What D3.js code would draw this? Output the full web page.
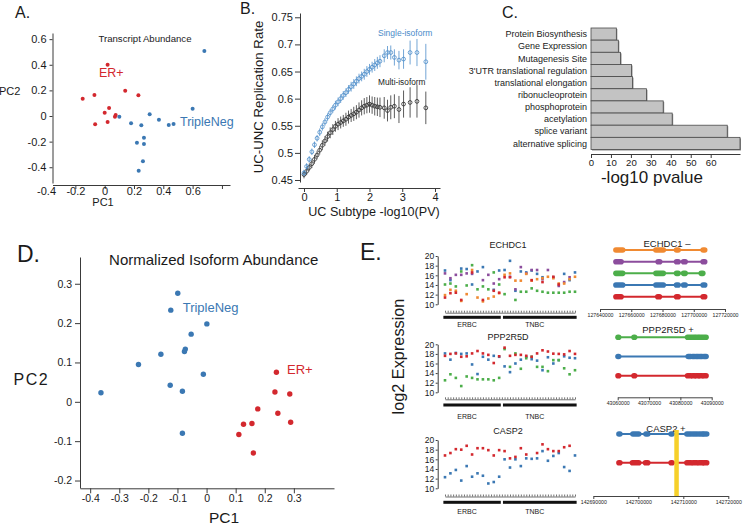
<!DOCTYPE html>
<html><head><meta charset="utf-8">
<script src="https://cdn.jsdelivr.net/npm/d3@7/dist/d3.min.js"></script>
<style>
body{margin:0;background:#fff;}
svg{font-family:"Liberation Sans",Arial,Helvetica,sans-serif;display:block;}
</style></head><body>
<svg id="c" width="744" height="527"></svg>
<script>
// ================= DATA =================
// Panel A: Transcript abundance PCA
const aErPC1 = [-0.18,-0.35,-0.27,-0.06,0.03,-0.17,-0.20,-0.125,-0.13,-0.265,-0.18];
const aErPC2 = [0.40,0.135,0.164,0.198,0.162,0.0625,0.026,0.008,-0.005,-0.065,-0.047];
const aTnPC1 = [0.48,0.40,-0.10,0.107,-0.02,0.05,0.17,0.237,0.27,0.068,0.02,0.068,0.061,0.032];
const aTnPC2 = [0.508,0.057,-0.005,0.013,-0.057,-0.073,-0.029,-0.07,-0.0625,-0.17,-0.208,-0.219,-0.354,-0.427];
const aTicks = [-0.4,-0.2,0,0.2,0.4,0.6];

// Panel B: replication rate
const bX = [0,0.08,0.16,0.24,0.32,0.40,0.48,0.56,0.64,0.72,0.80,0.88,0.96,1.04,1.12,1.20,1.28,1.36,1.44,1.52,1.60,1.68,1.76,1.84,1.92,2.00,2.08,2.16,2.24,2.32,2.45,2.55,2.65,2.76,2.90,3.04,3.24,3.45,3.72];
const bSingle = [0.463,0.475,0.488,0.502,0.515,0.527,0.538,0.548,0.557,0.566,0.574,0.581,0.588,0.594,0.600,0.606,0.611,0.617,0.622,0.627,0.632,0.637,0.641,0.645,0.650,0.654,0.658,0.662,0.666,0.669,0.679,0.685,0.685,0.676,0.671,0.673,0.685,0.685,0.668];
const bSingleErr = [0.006,0.006,0.006,0.006,0.006,0.006,0.007,0.007,0.007,0.007,0.007,0.007,0.008,0.008,0.008,0.008,0.008,0.008,0.009,0.009,0.009,0.009,0.009,0.010,0.010,0.010,0.010,0.011,0.011,0.011,0.012,0.012,0.013,0.015,0.017,0.018,0.022,0.025,0.033];
const bMulti = [0.460,0.466,0.473,0.480,0.488,0.496,0.505,0.514,0.522,0.530,0.537,0.543,0.549,0.553,0.556,0.559,0.562,0.566,0.569,0.572,0.575,0.579,0.583,0.586,0.588,0.590,0.588,0.586,0.585,0.584,0.583,0.578,0.584,0.586,0.580,0.590,0.593,0.595,0.583];
const bMultiErr = [0.007,0.007,0.007,0.008,0.008,0.008,0.008,0.009,0.009,0.009,0.010,0.010,0.010,0.011,0.011,0.011,0.012,0.012,0.012,0.013,0.013,0.014,0.014,0.015,0.015,0.016,0.016,0.017,0.017,0.018,0.020,0.020,0.022,0.022,0.025,0.025,0.028,0.030,0.030];
const bYTicks = [0.45,0.5,0.55,0.6,0.65,0.7,0.75];
const bXTicks = [0,1,2,3,4];

// Panel C: enrichment
const cTerms = ["Protein Biosynthesis","Gene Expression","Mutagenesis Site","3'UTR translational regulation","translational elongation","ribonucleoprotein","phosphoprotein","acetylation","splice variant","alternative splicing"];
const cVals = [12.7,13.7,14.8,20.3,20.8,27.8,36.2,40.7,68.3,74.7];
const cTicks = [0,10,20,30,40,50,60];

// Panel D: normalized isoform abundance PCA
const dTnPC1 = [-0.099,-0.123,0.001,-0.053,-0.073,-0.076,-0.157,-0.234,-0.011,-0.125,-0.083,-0.363,-0.083];
const dTnPC2 = [0.276,0.233,0.198,0.172,0.134,0.128,0.121,0.095,0.070,0.042,0.027,0.023,-0.080];
const dErPC1 = [0.240,0.235,0.286,0.176,0.245,0.127,0.156,0.289,0.111,0.161];
const dErPC2 = [0.075,0.025,0.020,-0.018,-0.029,-0.057,-0.055,-0.052,-0.083,-0.130];
const dXTicks = [-0.4,-0.3,-0.2,-0.1,0,0.1,0.2,0.3];
const dYTicks = [-0.2,-0.1,0,0.1,0.2,0.3];

// Panel E: per-sample log2 expression (25 samples: 11 ERBC, 14 TNBC)
const eGroups = ["ERBC","TNBC"];
const eGroupSize = [11,14];
const e1Blue   = [17.0,15.0,null,17.4,17.3,14.1,16.8,17.7,null,13.0,17.0,17.1,19.0,12.8,16.8,16.6,17.0,16.3,15.6,null,15.6,null,16.3,15.0,16.6];
const e1Purple = [16.4,15.4,16.1,16.1,16.4,16.3,null,15.0,16.1,14.3,15.2,null,15.7,13.1,17.7,16.4,17.1,17.1,15.2,17.1,null,13.8,14.6,15.6,null];
const e1Green  = [14.1,14.3,13.7,16.8,13.9,18.1,13.1,13.7,13.1,16.6,14.1,12.1,null,10.9,12.6,12.6,13.3,12.8,12.6,12.4,12.4,12.4,12.4,12.6,12.6];
const e1Orange = [11.9,13.0,12.8,10.7,12.1,17.1,11.4,10.6,11.2,11.6,12.3,16.1,16.4,14.9,14.9,16.3,14.9,15.2,15.4,15.7,15.4,14.3,14.3,15.2,15.7];
const e1Red    = [11.4,12.3,12.4,10.9,null,16.6,null,10.9,null,12.8,12.4,15.6,15.6,null,null,null,15.0,null,14.6,null,15.7,14.1,null,null,null];
const e2Red    = [17.6,18.0,18.1,17.4,17.5,18.1,18.6,18.1,17.8,16.1,17.5,19.3,17.6,17.8,17.8,17.6,17.4,18.1,18.75,18.5,18.05,18.0,17.9,18.6,18.0];
const e2Blue   = [18.1,16.8,18.2,18.0,18.1,15.8,13.8,17.4,16.8,17.6,17.4,15.4,14.2,16.0,16.8,17.4,16.9,16.6,14.6,17.3,16.0,16.7,17.5,17.2,17.1];
const e2Green  = [12.5,13.75,13.0,11.3,13.3,13.0,12.7,12.7,12.7,12.5,13.0,19.0,15.3,18.1,14.9,17.1,17.4,15.3,15.3,14.4,16.7,16.7,15.0,13.75,14.6];
const e3Red    = [16.8,17.3,18.1,18.0,18.8,17.0,18.3,18.3,17.9,16.8,17.9,17.7,16.2,16.5,18.3,17.0,null,17.3,19.1,18.1,17.7,17.7,18.5,18.8,null];
const e3Blue   = [12.3,13.1,13.8,11.6,14.6,12.4,13.1,12.6,11.0,11.3,12.4,16.0,14.3,16.0,14.6,16.2,16.1,16.2,17.7,15.7,16.7,17.3,14.4,13.6,16.8];
const eYTicks = [10,12,14,16,18,20];

// Panel E right: isoform exon structures (genomic coordinates)
const g1Name = "ECHDC1 \u2013";
const g1Ticks = [127640000,127660000,127680000,127700000,127720000];
const g1Exons = [
  [[127650200,127654500],[127675800,127680500],[127689000,127690000],[127706000,127707000]],
  [[127650200,127653500],[127677200,127678200],[127689000,127690000],[127693500,127694500],[127706000,127707000]],
  [[127650200,127654500],[127675800,127680500],[127689000,127690000],[127693500,127694500],[127704800,127705800]],
  [[127650200,127654500],[127675800,127680500],[127689000,127690000],[127693500,127694500],[127706000,127707000]],
  [[127650200,127653500],[127677000,127678000],[127689000,127690000],[127706000,127707000]]
];
const g2Name = "PPP2R5D +";
const g2Ticks = [43060000,43070000,43080000,43090000];
const g2Exons = [
  [[43060100,43060300],[43065200,43065400],[43082300,43083300],[43083900,43084500],[43085000,43085700],[43086200,43086900],[43087500,43088200]],
  [[43060100,43060300],[43082500,43083300],[43083900,43084500],[43085000,43085700],[43086200,43086900],[43087500,43088200]],
  [[43060100,43060300],[43065200,43065400],[43082300,43083300],[43083900,43084500],[43085000,43085700],[43086200,43086900],[43087500,43088200]]
];
const g3Name = "CASP2 +";
const g3Ticks = [142690000,142700000,142710000,142720000];
const g3Exons = [
  [[142695700,142695900],[142698800,142700100],[142701700,142702100],[142707300,142707500],[142710800,142711700],[142712200,142713000],[142713500,142714300],[142714600,142715200]],
  [[142695700,142695900],[142698700,142700100],[142701600,142702100],[142707300,142707500],[142710800,142711700],[142712200,142713000],[142713500,142714300],[142714600,142715200]]
];
const g3Highlight = [142708000,142709000];

// ================= DRAW =================
const FONT = '"Liberation Sans", Arial, Helvetica, sans-serif';
const RED = "#d3282e", BLUE = "#3b78b3", ORANGE = "#f08a32", PURPLE = "#8c4d9d", GREEN = "#4cae4a";
const svg = d3.select("#c");

function txt(x, y, s, size, o = {}) {
  const t = svg.append("text").attr("x", x).attr("y", y).text(s)
    .attr("font-size", size).attr("fill", o.fill || "#1a1a1a");
  if (o.anchor) t.attr("text-anchor", o.anchor);
  if (o.rotate) t.attr("transform", `rotate(-90,${x},${y})`);
  if (o.ls) t.attr("letter-spacing", o.ls);
  return t;
}
function styleAxis(g, fs, col) {
  g.selectAll("path,line").attr("stroke", col || "#3a3a3a").attr("stroke-width", 1);
  g.selectAll("text").attr("font-family", FONT).attr("font-size", fs).attr("fill", "#1a1a1a");
  return g;
}
const numFmt = v => String(v);

// ---- panel letters
txt(15, 17.5, "A.", 16);
txt(240, 14, "B.", 16);
txt(502, 17.5, "C.", 16);
txt(17, 262, "D.", 23);
txt(360, 260, "E.", 23);

// ---- Panel A
{
  const x = d3.scaleLinear().domain([-0.556, 0.655]).range([52.5, 230]);
  const xLab = d3.scaleLinear().domain([-0.356, 0.855]).range([52.5, 230]);
  const y = d3.scaleLinear().domain([-0.523, 0.648]).range([183, 33]);
  styleAxis(svg.append("g").attr("transform", "translate(52.5,0)")
    .call(d3.axisLeft(y).tickValues(aTicks).tickSize(3).tickSizeOuter(0).tickPadding(3).tickFormat(numFmt)), 11);
  styleAxis(svg.append("g").attr("transform", "translate(0,185)")
    .call(d3.axisBottom(x).tickValues(aTicks).tickSize(4).tickSizeOuter(0).tickFormat("")), 11);
  const lab = svg.append("g").attr("transform", "translate(0,185)")
    .call(d3.axisBottom(xLab).tickValues(aTicks).tickSize(0).tickPadding(2).tickFormat(numFmt));
  lab.select(".domain").remove();
  styleAxis(lab, 11);
  svg.append("g").selectAll("circle").data(aErPC1).join("circle")
    .attr("cx", d => x(d)).attr("cy", (d, i) => y(aErPC2[i])).attr("r", 2).attr("fill", RED);
  svg.append("g").selectAll("circle").data(aTnPC1).join("circle")
    .attr("cx", d => x(d)).attr("cy", (d, i) => y(aTnPC2[i])).attr("r", 2).attr("fill", BLUE);
  txt(145, 41.5, "Transcript Abundance", 9.6, {anchor: "middle"});
  txt(99, 77, "ER+", 12.5, {fill: RED});
  txt(180, 126, "TripleNeg", 12.5, {fill: BLUE});
  txt(-1, 95, "PC2", 11);
  txt(103, 206, "PC1", 11, {anchor: "middle"});
}

// ---- Panel B
{
  const x = d3.scaleLinear().domain([-0.183, 4.153]).range([298, 440]);
  const y = d3.scaleLinear().domain([0.4463, 0.7579]).range([182, 13]);
  styleAxis(svg.append("g").attr("transform", "translate(300,0)")
    .call(d3.axisLeft(y).tickValues(bYTicks).tickSize(5).tickSizeOuter(0).tickPadding(2).tickFormat(numFmt)), 11);
  styleAxis(svg.append("g").attr("transform", "translate(0,188)")
    .call(d3.axisBottom(x).tickValues(bXTicks).tickSize(4).tickSizeOuter(0).tickPadding(1.5).tickFormat(numFmt)), 11);
  const series = [[bMulti, bMultiErr, "#2a2a2a"], [bSingle, bSingleErr, "#4a8bc9"]];
  series.forEach(([vals, errs, col]) => {
    const g = svg.append("g");
    g.selectAll("line").data(vals).join("line")
      .attr("x1", (d, i) => x(bX[i])).attr("x2", (d, i) => x(bX[i]))
      .attr("y1", (d, i) => y(d - errs[i])).attr("y2", (d, i) => y(d + errs[i]))
      .attr("stroke", col).attr("stroke-width", 0.9).attr("opacity", 0.85);
    g.selectAll("circle").data(vals).join("circle")
      .attr("cx", (d, i) => x(bX[i])).attr("cy", d => y(d)).attr("r", 1.9)
      .attr("fill", "none").attr("stroke", col).attr("stroke-width", 0.8);
  });
  txt(378, 35.5, "Single-isoform", 8.5, {fill: "#4a8bc9"});
  txt(378, 85, "Multi-isoform", 8.3, {fill: "#222"});
  txt(263, 97, "UC-UNC Replication Rate", 13.2, {anchor: "middle", rotate: true});
  txt(374, 216, "UC Subtype -log10(PV)", 12.6, {anchor: "middle"});
}

// ---- Panel C
{
  const x = d3.scaleLinear().domain([0, 74.7]).range([591, 740]);
  const y = d3.scaleBand().domain(cTerms).range([28, 149.5]).padding(0);
  const g = svg.append("g");
  g.selectAll("rect.sh").data(cVals).join("rect").attr("class", "sh")
    .attr("x", x(0) + 1).attr("y", (d, i) => y(cTerms[i]) + 1)
    .attr("width", d => x(d) - x(0)).attr("height", y.bandwidth())
    .attr("fill", "#8a8a8a");
  g.selectAll("rect.b").data(cVals).join("rect").attr("class", "b")
    .attr("x", x(0)).attr("y", (d, i) => y(cTerms[i]))
    .attr("width", d => x(d) - x(0)).attr("height", y.bandwidth())
    .attr("fill", "#c3c3c3").attr("stroke", "#4a4a4a").attr("stroke-width", 0.8);
  g.selectAll("text").data(cTerms).join("text")
    .attr("x", 587).attr("y", d => y(d) + y.bandwidth() / 2 + 3.2)
    .attr("text-anchor", "end").attr("font-size", 9).attr("fill", "#1a1a1a").text(d => d);
  styleAxis(svg.append("g").attr("transform", "translate(0,154)")
    .call(d3.axisBottom(x).tickValues(cTicks).tickSize(4).tickSizeOuter(0).tickPadding(1.5).tickFormat(numFmt)), 9.6);
  txt(652, 183, "-log10 pvalue", 17, {anchor: "middle"});
}

// ---- Panel D
{
  const x = d3.scaleLinear().domain([-0.435, 0.438]).range([80, 334]);
  const y = d3.scaleLinear().domain([-0.219, 0.368]).range([488, 257]);
  styleAxis(svg.append("g").attr("transform", "translate(80,0)")
    .call(d3.axisLeft(y).tickValues(dYTicks).tickSize(5).tickSizeOuter(0).tickPadding(3).tickFormat(numFmt)), 10.5);
  styleAxis(svg.append("g").attr("transform", "translate(0,488.3)")
    .call(d3.axisBottom(x).tickValues(dXTicks).tickSize(5).tickSizeOuter(0).tickPadding(1.5).tickFormat(numFmt)), 10.5);
  svg.append("g").selectAll("circle").data(dTnPC1).join("circle")
    .attr("cx", d => x(d)).attr("cy", (d, i) => y(dTnPC2[i])).attr("r", 2.7).attr("fill", BLUE);
  svg.append("g").selectAll("circle").data(dErPC1).join("circle")
    .attr("cx", d => x(d)).attr("cy", (d, i) => y(dErPC2[i])).attr("r", 2.7).attr("fill", RED);
  txt(213.7, 265, "Normalized Isoform Abundance", 15, {anchor: "middle"});
  txt(13.5, 385, "PC2", 16, {ls: 1.5});
  txt(224, 522.5, "PC1", 15.5, {anchor: "middle"});
  txt(182.7, 312, "TripleNeg", 13, {fill: BLUE});
  txt(287, 373.5, "ER+", 13, {fill: RED});
}

// ---- Panel E left
{
  txt(404, 356.5, "log2 Expression", 16.3, {anchor: "middle", rotate: true});
  const x = d3.scaleLinear().domain([0, 24]).range([445, 575]);
  const plots = [
    {name: "ECHDC1", top: 256, bot: 304.3, tl: 247.5, rul: 312.7, bar: 317.3, lab: 327, series: [[e1Blue, BLUE], [e1Purple, PURPLE], [e1Green, GREEN], [e1Orange, ORANGE], [e1Red, RED]]},
    {name: "PPP2R5D", top: 344.3, bot: 392.3, tl: 339.5, rul: 399.3, bar: 405, lab: 418.5, series: [[e2Blue, BLUE], [e2Green, GREEN], [e2Red, RED]]},
    {name: "CASP2", top: 440, bot: 488.3, tl: 434, rul: 496.5, bar: 502.3, lab: 513.5, series: [[e3Blue, BLUE], [e3Red, RED]]}
  ];
  const starts = [0, eGroupSize[0]];
  plots.forEach(p => {
    const y = d3.scaleLinear().domain([10, 20]).range([p.bot, p.top]);
    styleAxis(svg.append("g").attr("transform", "translate(437.7,0)")
      .call(d3.axisLeft(y).tickValues(eYTicks).tickSize(2).tickSizeOuter(0).tickPadding(1.5).tickFormat(numFmt)), 8.5);
    txt(508, p.tl, p.name, 9, {anchor: "middle"});
    p.series.forEach(([vals, col]) => {
      svg.append("g").selectAll("rect").data(vals.map((v, i) => [i, v]).filter(d => d[1] !== null)).join("rect")
        .attr("x", d => x(d[0]) - 1.3).attr("y", d => y(d[1]) - 1.3)
        .attr("width", 2.6).attr("height", 2.6).attr("fill", col);
    });
    // sample ruler
    const r = svg.append("g").attr("transform", `translate(0,${p.rul})`)
      .call(d3.axisTop(x).tickValues(d3.range(0, 24.01, 0.5)).tickSize(2).tickSizeOuter(0).tickFormat(""));
    r.selectAll("path,line").attr("stroke", "#333").attr("stroke-width", 0.7);
    eGroups.forEach((gname, k) => {
      const s0 = starts[k], s1 = starts[k] + eGroupSize[k] - 1;
      svg.append("rect").attr("x", x(s0 - 0.3)).attr("y", p.bar - 1.5)
        .attr("width", x(s1 + 0.3) - x(s0 - 0.3)).attr("height", 3).attr("fill", "#111");
      txt(x((s0 + s1) / 2) - 5, p.lab, gname, 7, {anchor: "middle"});
    });
  });
}

// ---- Panel E right
{
  const cols1 = [ORANGE, PURPLE, GREEN, BLUE, RED];
  const cols2 = [GREEN, BLUE, RED];
  const cols3 = [BLUE, RED];
  const genes = [
    {name: g1Name, exons: g1Exons, cols: cols1, dom: [127640000, 127720000], rng: [600, 725], ty: [250, 296.7], axisY: 309, ticks: g1Ticks, tl: 247, tx: 667},
    {name: g2Name, exons: g2Exons, cols: cols2, dom: [43060000, 43090000], rng: [617.7, 711.7], ty: [337.3, 375.7], axisY: 397.3, ticks: g2Ticks, tl: 333, tx: 668},
    {name: g3Name, exons: g3Exons, cols: cols3, dom: [142690000, 142720000], rng: [593.3, 728.3], ty: [434, 462.7], axisY: 496, ticks: g3Ticks, tl: 432, tx: 666}
  ];
  genes.forEach((G, gi) => {
    const x = d3.scaleLinear().domain(G.dom).range(G.rng);
    const y = d3.scalePoint().domain(d3.range(G.exons.length)).range(G.ty);
    txt(G.tx, G.tl, G.name, 9.5, {anchor: "middle"});
    G.exons.forEach((ex, k) => {
      const g = svg.append("g");
      g.append("line").attr("x1", x(ex[0][0])).attr("x2", x(ex[ex.length - 1][1]))
        .attr("y1", y(k)).attr("y2", y(k)).attr("stroke", G.cols[k]).attr("stroke-width", 2);
      g.selectAll("rect").data(ex).join("rect")
        .attr("x", d => x(d[0]) - 2.8).attr("y", y(k) - 2.8)
        .attr("width", d => x(d[1]) - x(d[0]) + 5.6).attr("height", 5.6).attr("rx", 2.8)
        .attr("fill", G.cols[k]);
    });
    const ax = svg.append("g").attr("transform", `translate(0,${G.axisY})`)
      .call(d3.axisBottom(x).tickValues(G.ticks).tickSize(3).tickSizeOuter(0).tickPadding(1).tickFormat(d3.format("d")));
    styleAxis(ax, 5.2, "#444");
    if (gi === 2) {
      svg.append("rect").attr("x", x(g3Highlight[0])).attr("y", 430)
        .attr("width", x(g3Highlight[1]) - x(g3Highlight[0])).attr("height", G.axisY - 430)
        .attr("fill", "#f6d02a");
    }
  });
}
</script>
</body></html>
